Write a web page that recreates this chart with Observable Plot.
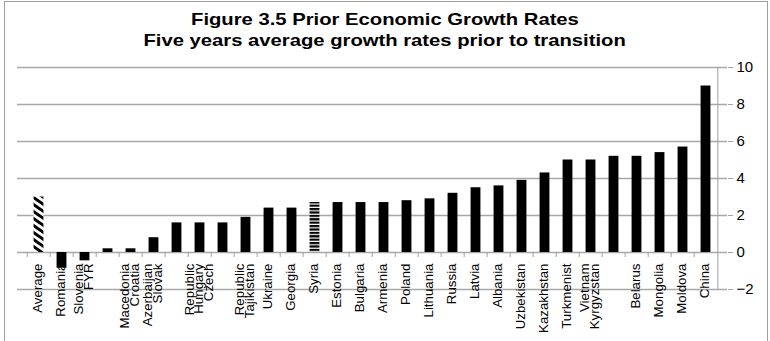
<!DOCTYPE html>
<html><head><meta charset="utf-8">
<script src="https://cdn.jsdelivr.net/npm/d3@7"></script>
<script src="https://cdn.jsdelivr.net/npm/@observablehq/plot@0.6"></script>
<style>
html,body{margin:0;padding:0;background:#fff;width:770px;height:341px;overflow:hidden;font-family:"Liberation Sans",Arial,sans-serif;}
#frame{position:absolute;left:4px;top:1px;width:762px;height:400px;border:1px solid #a0a0a0;}
#title{position:absolute;left:0;top:9px;width:770px;text-align:center;font-weight:bold;font-size:17px;line-height:21px;color:#000;}
#title span{display:inline-block;transform:scaleX(1.19);transform-origin:50% 50%;white-space:nowrap;}
#chart{position:absolute;left:0;top:55px;}
</style></head>
<body>
<div id="frame"></div>
<div id="title"><span>Figure 3.5 Prior Economic Growth Rates</span><br><span>Five years average growth rates prior to transition</span></div>
<div id="chart"></div>
<script>
const countries = ["Average","Romania","Slovenia","FYR Macedonia","Croatia","Azerbaijan","Slovak Republic","Hungary","Czech Republic","Tajikistan","Ukraine","Georgia","Syria","Estonia","Bulgaria","Armenia","Poland","Lithuania","Russia","Latvia","Albania","Uzbekistan","Kazakhstan","Turkmenistan","Vietnam","Kyrgyzstan","Belarus","Mongolia","Moldova","China"];
const growth = [3.0,-0.85,-0.45,0.2,0.2,0.8,1.6,1.6,1.6,1.9,2.4,2.4,2.7,2.7,2.7,2.7,2.8,2.9,3.2,3.5,3.6,3.9,4.3,5.0,5.0,5.2,5.2,5.4,5.7,9.0];
const tickLabels = ["Average","Romania","Slovenia\nFYR","","Macedonia\nCroatia","Azerbaijan\nSlovak","","Republic\nHungary\nCzech","","Republic\nTajikistan","Ukraine","Georgia","Syria","Estonia","Bulgaria","Armenia","Poland","Lithuania","Russia","Latvia","Albania","Uzbekistan","Kazakhstan","Turkmenist","Vietnam\nKyrgyzstan","","Belarus","Mongolia","Moldova","China"];
const yTicks = [-2,0,2,4,6,8,10];
const averageName = "Average";
const hatchedName = "Syria";
const baseline = 0;

const data = countries.map((c, i) => ({country: c, value: growth[i], label: tickLabels[i]}));

const W = 770, H = 286, mL = 17, mR = 43, mT = 12, mB = 52;
const step = (W - mL - mR) / countries.length;
const barWidth = 10.5;
const inset = (step - barWidth) / 2;
const gray = "#a0a0a0";

const barOpts = {x: "country", y: "value", insetLeft: inset, insetRight: inset};

const svg = Plot.plot({
  width: W, height: H,
  marginLeft: mL, marginRight: mR, marginTop: mT, marginBottom: mB,
  style: {fontFamily: "'Liberation Sans', Arial, sans-serif", fontSize: "14px", background: "transparent", color: "#000"},
  x: {type: "band", domain: countries, padding: 0, axis: null},
  y: {domain: [d3.min(yTicks), d3.max(yTicks)]},
  marks: [
    Plot.ruleY(yTicks, {stroke: "#a8a8a8", strokeWidth: 1.5}),
    Plot.barY(data.filter(d => d.country !== averageName && d.country !== hatchedName), {...barOpts, fill: "#000"}),
    Plot.barY(data.filter(d => d.country === averageName), {...barOpts, fill: "url(#avgPat)"}),
    Plot.barY(data.filter(d => d.country === hatchedName), {...barOpts, fill: "url(#stripePat)"}),
    Plot.ruleX(countries, {x: d => d, y1: () => baseline, y2: () => baseline, insetBottom: -5, dx: -step / 2, stroke: gray}),
    Plot.ruleX([countries[countries.length - 1]], {x: d => d, y1: () => d3.min(yTicks), y2: () => d3.max(yTicks), dx: step / 2, stroke: gray}),
    Plot.axisY({anchor: "right", ticks: yTicks, tickSize: 5, tickPadding: 4, fontSize: 15, stroke: gray, label: null}),
    Plot.text(data.filter(d => d.label), {
      x: "country", y: () => baseline, text: "label",
      rotate: -90, textAnchor: "end", lineAnchor: "middle", lineHeight: 0.72,
      dy: 11, fontSize: 13.3, fill: "#000"
    })
  ]
});

d3.select(svg).selectAll('g[aria-label="y-axis tick label"]').attr("font-size", 15);

d3.select(svg).insert("defs", ":first-child").html(`
  <pattern id="avgPat" patternUnits="userSpaceOnUse" width="10" height="7">
    <rect width="10" height="7" fill="#fff"/>
    <path d="M-1,-7.7 L11,0.7 M-1,-0.7 L11,7.7 M-1,6.3 L11,14.7" stroke="#000" stroke-width="3"/>
  </pattern>
  <pattern id="stripePat" patternUnits="userSpaceOnUse" width="10" height="3.4">
    <rect width="10" height="3.4" fill="#fff"/>
    <rect width="10" height="2.2" fill="#000"/>
  </pattern>`);

document.getElementById("chart").appendChild(svg);
</script>
</body></html>
